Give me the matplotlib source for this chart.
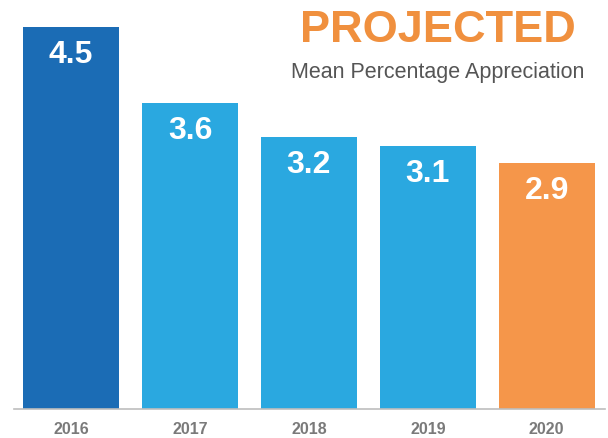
import matplotlib
matplotlib.use("Agg")
import matplotlib.pyplot as plt

plt.rcParams['font.family'] = ['Liberation Sans', 'DejaVu Sans']

# ---------- data ----------
years = ['2016', '2017', '2018', '2019', '2020']
values = [4.5, 3.6, 3.2, 3.1, 2.9]
bar_colors = ['#1b6cb5', '#2aa8e0', '#2aa8e0', '#2aa8e0', '#f5964a']
title = 'PROJECTED'
subtitle = 'Mean Percentage Appreciation'

fig = plt.figure(figsize=(6.08, 4.38), dpi=100)
ax = fig.add_axes([14 / 608, 29 / 438, 591 / 608, 407.5 / 438])

x = range(len(years))
ax.bar(x, values, width=0.81, color=bar_colors, zorder=2)

# 数值标签：白色粗体，放在柱顶下方
for xi, v in zip(x, values):
    ax.annotate(f'{v:.1f}', (xi, v), xytext=(0, -26), textcoords='offset points',
                ha='center', va='baseline', color='white', fontsize=23,
                fontweight='bold')

ax.set_xlim(-0.48, 4.49)
ax.set_ylim(0, 4.8)
ax.set_xticks(list(x))
ax.set_xticklabels(years, fontsize=11.5, fontweight='bold', color='#7a7a7a')
ax.tick_params(axis='x', length=0, pad=9)
ax.set_yticks([])
for s in ['top', 'right', 'left']:
    ax.spines[s].set_visible(False)
ax.spines['bottom'].set_color('#bdbdbd')
ax.spines['bottom'].set_linewidth(1.2)

fig.text(438 / 608, 1 - 42 / 438, title, ha='center', va='baseline',
         fontsize=32.5, fontweight='bold', color='#f0903e')
fig.text(438 / 608, 1 - 78 / 438, subtitle, ha='center', va='baseline',
         fontsize=15.5, color='#555555')

fig.savefig('out.png', dpi=100)
